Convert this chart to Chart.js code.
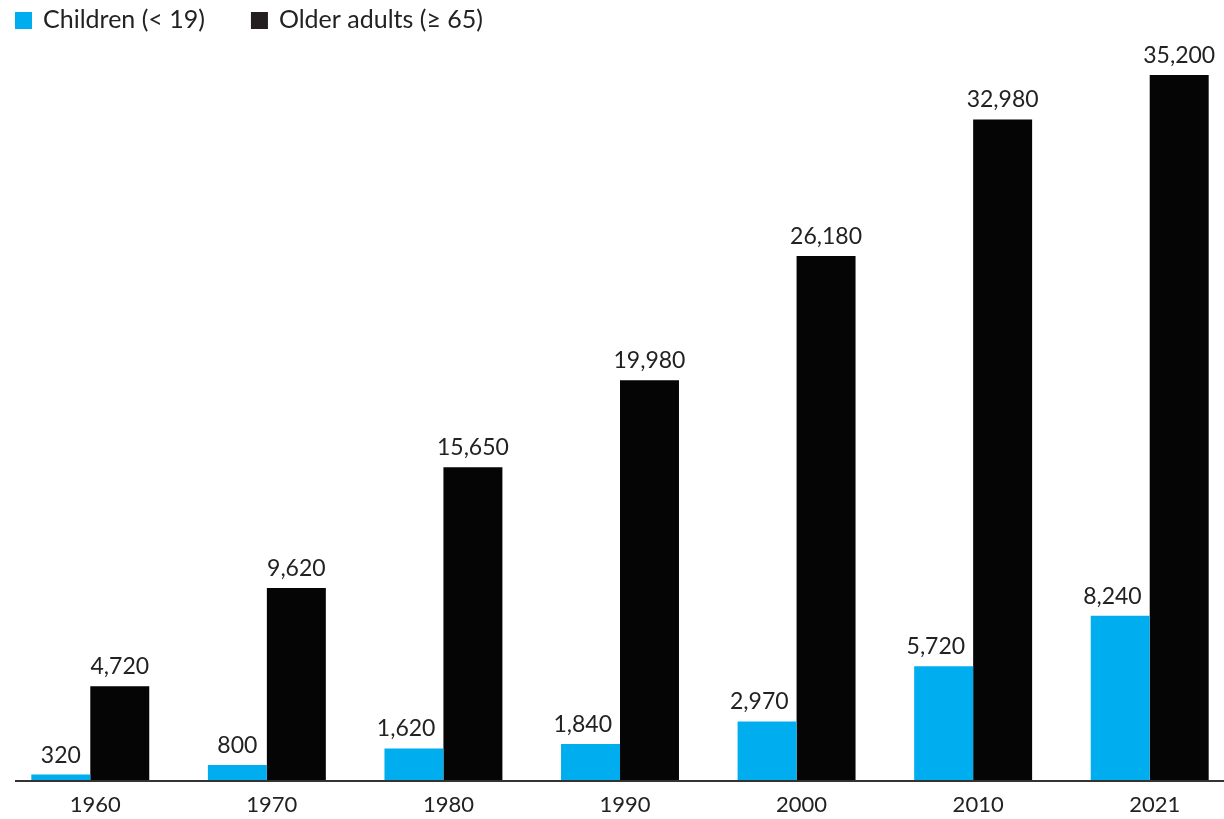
<!DOCTYPE html>
<html>
<head>
<meta charset="utf-8">
<script src="https://cdn.jsdelivr.net/npm/chart.js@4"></script>
<style>
  html, body { margin: 0; padding: 0; background: #fff; overflow: hidden; }
  #wrap { width: 1240px; height: 819px; }
</style>
</head>
<body>
<div id="wrap"><canvas id="popChart"></canvas></div>
<script>
const years = ['1960', '1970', '1980', '1990', '2000', '2010', '2021'];
const children = [320, 800, 1620, 1840, 2970, 5720, 8240];
const olderAdults = [4720, 9620, 15650, 19980, 26180, 32980, 35200];
const seriesNames = ['Children (< 19)', 'Older adults (\u2265 65)'];
const legendSwatch = ['#00aeef', '#231f20'];

const textColor = '#222';

// value labels above each bar
const barLabels = {
  id: 'barLabels',
  afterDatasetsDraw(chart) {
    const ctx = chart.ctx;
    ctx.save();
    ctx.font = '23px Lato';
    ctx.fillStyle = textColor;
    ctx.textAlign = 'center';
    ctx.textBaseline = 'bottom';
    chart.data.datasets.forEach((ds, i) => {
      chart.getDatasetMeta(i).data.forEach((bar, j) => {
        const txt = ds.data[j].toLocaleString('en-US');
        let x = bar.x;
        if (i === 0) {
          // keep the children label clear of the neighbouring black bar
          const w = ctx.measureText(txt).width;
          x = Math.min(x, bar.x + bar.width / 2 - 8 - w / 2);
        }
        ctx.fillText(txt, x, bar.y - 8);
      });
    });
    ctx.restore();
  }
};

// baseline under the bars + legend row at the top
const frame = {
  id: 'frame',
  afterDraw(chart) {
    const ctx = chart.ctx;
    const y = chart.scales.y.getPixelForValue(0);
    ctx.save();
    ctx.strokeStyle = '#333';
    ctx.lineWidth = 2;
    ctx.beginPath();
    ctx.moveTo(15, y);
    ctx.lineTo(1224, y);
    ctx.stroke();

    ctx.font = '25px Lato';
    ctx.textBaseline = 'middle';
    let x = 15;
    seriesNames.forEach((name, i) => {
      ctx.fillStyle = legendSwatch[i];
      ctx.fillRect(x, 12, 17, 17);
      ctx.fillStyle = textColor;
      ctx.fillText(name, x + 28, 20);
      x += 28 + ctx.measureText(name).width + 46;
    });
    ctx.restore();
  }
};

new Chart(document.getElementById('popChart'), {
  type: 'bar',
  data: {
    labels: years,
    datasets: [
      { label: seriesNames[0], data: children, backgroundColor: '#00aeef' },
      { label: seriesNames[1], data: olderAdults, backgroundColor: '#050505' }
    ]
  },
  options: {
    responsive: true,
    maintainAspectRatio: false,
    animation: false,
    categoryPercentage: 0.668,
    barPercentage: 1,
    layout: { padding: { left: 2, right: 2, top: 59, bottom: 0 } },
    scales: {
      x: {
        grid: { display: false, drawTicks: false },
        border: { display: false },
        ticks: { color: textColor, font: { family: 'Lato', size: 22 }, padding: 11, labelOffset: 5 },
        afterFit(scale) { scale.height = 38; }
      },
      y: {
        display: false,
        min: 0,
        max: 36000
      }
    },
    plugins: {
      tooltip: { enabled: false },
      legend: { display: false }
    }
  },
  plugins: [barLabels, frame]
});
</script>
</body>
</html>
